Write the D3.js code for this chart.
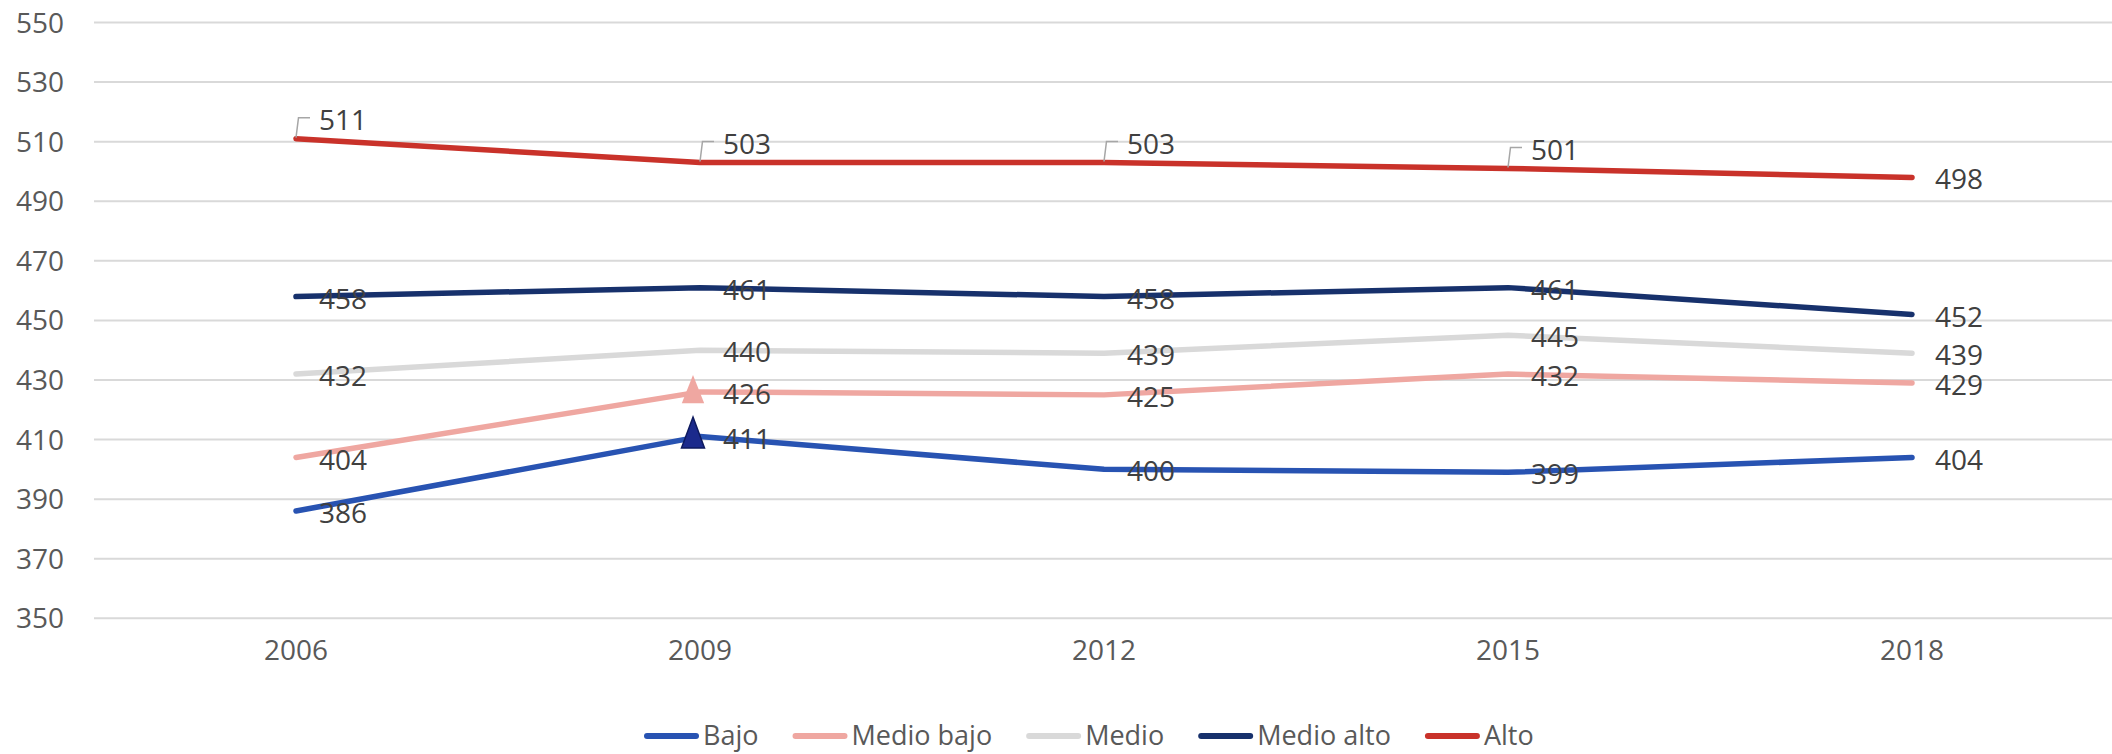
<!DOCTYPE html>
<html>
<head>
<meta charset="utf-8">
<script src="https://cdn.jsdelivr.net/npm/d3@7"></script>
<style>
  html, body { margin: 0; padding: 0; background: #fff; }
  svg { display: block; font-family: "Open Sans", "Noto Sans", sans-serif; }
</style>
</head>
<body>
<svg id="chart" width="2112" height="754"></svg>
<script>
const years = ["2006", "2009", "2012", "2015", "2018"];
const seriesNames = ["Bajo", "Medio bajo", "Medio", "Medio alto", "Alto"];
const bajo = [386, 411, 400, 399, 404];
const medioBajo = [404, 426, 425, 432, 429];
const medio = [432, 440, 439, 445, 439];
const medioAlto = [458, 461, 458, 461, 452];
const alto = [511, 503, 503, 501, 498];
const yTicks = [350, 370, 390, 410, 430, 450, 470, 490, 510, 530, 550];
const colors = ["#2853B2", "#EFA7A1", "#D9D9D9", "#17316C", "#C9322A"];
// labels that Excel moved up with leader lines: [seriesIndex, yearIndex]
const leaderLabels = [[4, 0], [4, 1], [4, 2], [4, 3]];
// triangle markers: [seriesIndex, yearIndex]
const triangles = [[1, 1], [0, 1]];

const allValues = [bajo, medioBajo, medio, medioAlto, alto];
const series = seriesNames.map((n, i) => ({ name: n, values: allValues[i], color: colors[i], idx: i }));

const svg = d3.select("#chart");
const x = d3.scaleBand().domain(years).range([94, 2114]);
const cx = d => x(d) + x.bandwidth() / 2;
const y = d3.scaleLinear().domain([350, 550]).range([618.3, 22.5]);

// gridlines
svg.append("g").selectAll("line").data(yTicks).join("line")
  .attr("x1", 94).attr("x2", 2112)
  .attr("y1", d => y(d)).attr("y2", d => y(d))
  .attr("stroke", "#D9D9D9").attr("stroke-width", 2);

// y axis
const yAxis = svg.append("g").attr("transform", "translate(64,0)")
  .call(d3.axisLeft(y).tickValues(yTicks).tickSize(0).tickPadding(0));
yAxis.select(".domain").remove();
yAxis.selectAll("text").attr("font-size", 28).attr("fill", "#595959")
  .attr("font-family", "Open Sans, Noto Sans, sans-serif").attr("dy", "0.34em");

// x axis
const xAxis = svg.append("g").attr("transform", "translate(0,650)")
  .call(d3.axisBottom(x).tickSize(0).tickPadding(0));
xAxis.select(".domain").remove();
xAxis.selectAll("text").attr("font-size", 28).attr("fill", "#595959")
  .attr("font-family", "Open Sans, Noto Sans, sans-serif").attr("dy", "0.34em");

// lines
const line = d3.line().x((d, i) => cx(years[i])).y(d => y(d));
svg.append("g").selectAll("path").data(series).join("path")
  .attr("d", s => line(s.values))
  .attr("fill", "none").attr("stroke", s => s.color)
  .attr("stroke-width", 5.5).attr("stroke-linecap", "round").attr("stroke-linejoin", "round");

// triangle markers
const tri = svg.append("g");
triangles.forEach(([si, yi]) => {
  const px = cx(years[yi]) - 7, py = y(allValues[si][yi]);
  const big = si === 0;
  const h1 = big ? 19.5 : 17, h2 = big ? 11.5 : 11.4, w = big ? 11.5 : 11.2;
  tri.append("path")
    .attr("d", `M${px},${py - h1}L${px + w},${py + h2}L${px - w},${py + h2}Z`)
    .attr("fill", big ? "#1B2A8C" : colors[1])
    .attr("stroke", big ? "#0E1A5E" : "none").attr("stroke-width", 1.5);
});

// data labels
const lab = svg.append("g").attr("font-size", 28).attr("fill", "#404040");
const isLeader = (si, yi) => leaderLabels.some(([a, b]) => a === si && b === yi);
series.forEach(s => {
  s.values.forEach((v, yi) => {
    const px = cx(years[yi]), py = y(v);
    const lead = isLeader(s.idx, yi);
    if (lead) {
      lab.append("path")
        .attr("d", `M${px},${py - 1}L${px + 2.5},${py - 21}L${px + 14},${py - 21}`)
        .attr("fill", "none").attr("stroke", "#A6A6A6").attr("stroke-width", 1.5);
    }
    lab.append("text")
      .attr("x", px + 23).attr("y", lead ? py - 19 : py + 2)
      .attr("dy", "0.36em").text(v);
  });
});

// legend
const leg = svg.append("g").attr("transform", "translate(0,736)");
let lx = 644;
series.forEach(s => {
  leg.append("line").attr("x1", lx + 3).attr("x2", lx + 52).attr("y1", 0).attr("y2", 0)
    .attr("stroke", s.color).attr("stroke-width", 6).attr("stroke-linecap", "round");
  const t = leg.append("text").attr("x", lx + 59).attr("y", 0).attr("dy", "0.34em")
    .attr("font-size", 27).attr("fill", "#595959").text(s.name);
  lx += 59 + t.node().getComputedTextLength() + 34;
});
</script>
</body>
</html>
